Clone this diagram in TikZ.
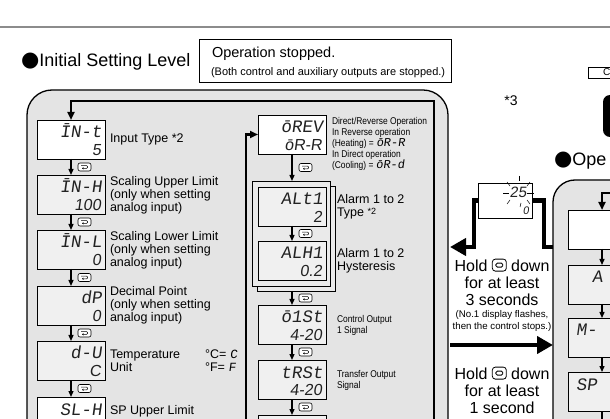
\documentclass[tikz,border=0pt]{standalone}
\usepackage{fontspec}
\setmainfont{Liberation Sans}
\newfontfamily\segfont{Liberation Mono}[FakeSlant=0.14]
\newfontfamily\segnum{Liberation Sans}[FakeSlant=0.14]
\newfontfamily\narrowfont{Liberation Sans}[FakeStretch=0.86]
\newfontfamily\dvfont{DejaVu Sans}
\usetikzlibrary{arrows.meta,calc}
\definecolor{panelgray}{HTML}{E4E4E4}
\definecolor{boxgray}{HTML}{F0F0F0}
\definecolor{framegray}{HTML}{EAEAEA}
\definecolor{rulegray}{HTML}{8C8C8C}
\definecolor{segink}{HTML}{222222}
\tikzset{
  every node/.style={inner sep=0pt, outer sep=0pt},
  panel/.style={draw=black, line width=1.3pt, fill=panelgray},
  disp/.style={draw=black, line width=0.8pt, fill=boxgray, minimum width=68pt, minimum height=39pt, anchor=north west},
  frame/.style={draw=black, line width=0.7pt, fill=framegray, minimum width=78pt, minimum height=105pt, anchor=north west},
  segA/.style={font=\segfont\fontsize{17.5}{18}\selectfont, text=segink, anchor=base east},
  segB/.style={font=\segnum\fontsize{16}{16}\selectfont, text=segink, anchor=base east},
  lbl/.style={font=\fontsize{12.5}{13}\selectfont, align=left, anchor=west},
  small/.style={font=\narrowfont\fontsize{9.8}{11}\selectfont, align=left, anchor=west},
  flow/.style={line width=1.3pt, -{Triangle[length=6pt,width=5pt]}},
  loopline/.style={line width=2.6pt, -{Triangle[length=8pt,width=7pt]}},
  bigline/.style={line width=4.5pt},
  bigarrow/.style={line width=4.5pt, -{Triangle[length=16pt,width=17pt]}},
  keyicon/.style={draw=black, line width=0.6pt, rounded corners=2pt, fill=white, minimum width=13pt, minimum height=8pt, anchor=west,
    path picture={\draw[line width=0.5pt, -{Stealth[length=1.6pt,width=2.2pt]}, rounded corners=0.8pt]
      ([xshift=-3.5pt,yshift=1.3pt]path picture bounding box.center) -- ++(6.5pt,0pt) -- ++(0pt,-2.6pt) -- ++(-5.5pt,0pt);}},
  hold/.style={font=\fontsize{16}{17}\selectfont, align=center},
  ray/.style={line width=0.5pt},
}
\newcommand{\dispbox}[6]{%
  \node[disp, fill=#4] (#1) at (#2,#3) {};
  \node[segA] (#1-t) at ([xshift=-3pt,yshift=-18pt]#1.north east) {#5};
  \node[segB] (#1-b) at ([xshift=-4pt,yshift=-35.5pt]#1.north east) {#6};
}
\newcommand{\stepkey}[3]{%
  \draw[flow] (#2) -- (#3);
  \node[keyicon] (#1) at ($(#2)!0.5!(#3)+(7,0)$) {};
}
\newcommand{\holdicon}{\tikz[baseline=0pt,x=1pt,y=1pt]{\draw[line width=0.8pt, rounded corners=3pt] (0,0) rectangle (14,12); \draw[line width=0.8pt, rounded corners=1.5pt] (3.5,4) rectangle (10.5,8);}}
\begin{document}
\begin{tikzpicture}[x=1pt,y=-1pt]
\useasboundingbox (0,0) rectangle (610,419);
\fill[white] (0,0) rectangle (610,419);
\draw[rulegray, line width=2.5pt] (0,27) -- (610,27);

% titles and top boxes
\node[anchor=base west, font=\fontsize{18}{18}\selectfont] (title) at (21,67) {{\dvfont\fontsize{21}{18}\selectfont ●}Initial Setting Level};
\node[draw, line width=0.8pt, anchor=north west, minimum width=252pt, minimum height=43pt] (stopbox) at (199,39) {};
\node[anchor=base west, font=\fontsize{14.5}{15}\selectfont] (stop1) at (212,58) {Operation stopped.};
\node[anchor=base west, font=\fontsize{11}{11}\selectfont] (stop2) at (211,76) {(Both control and auxiliary outputs are stopped.)};
\node[font=\fontsize{14}{14}\selectfont] (n3) at (511,101) {*3};
\node[draw, line width=0.8pt, anchor=north west, minimum width=40pt, minimum height=11pt] (opbox) at (588,67) {};
\node[anchor=base west, font=\fontsize{10}{10}\selectfont] (optext) at (603,76) {C};
\fill[rounded corners=7pt] (603,95) rectangle (650,137);
\node[anchor=base west, font=\fontsize{18}{18}\selectfont] (optitle) at (554,166) {{\dvfont\fontsize{21}{18}\selectfont ●}Ope};

% panels
\filldraw[panel, rounded corners=25pt] (27,470) -- (27,90) -- (448,90) -- (448,470);
\filldraw[panel, rounded corners=22pt] (553,470) -- (553,180) -- (690,180) -- (690,470);

% left column
\dispbox{b1}{37}{120}{white}{ĪN-t}{5}
\dispbox{b2}{37}{175}{boxgray}{ĪN-H}{100}
\dispbox{b3}{37}{230}{boxgray}{ĪN-L}{0}
\dispbox{b4}{37}{286}{boxgray}{dP}{0}
\dispbox{b5}{37}{341}{boxgray}{d-U}{C}
\node[disp, fill=white] (b6) at (37,397) {};
\node[segA] (b6-t) at ([xshift=-3pt,yshift=-18pt]b6.north east) {SL-H};
\stepkey{k1}{b1.south}{b2.north}
\stepkey{k2}{b2.south}{b3.north}
\stepkey{k3}{b3.south}{b4.north}
\stepkey{k4}{b4.south}{b5.north}
\stepkey{k5}{b5.south}{b6.north}

\node[lbl] (l1) at (110,139) {Input Type *2};
\node[lbl] (l2) at (110,195) {Scaling Upper Limit\\(only when setting\\analog input)};
\node[lbl] (l3) at (110,250) {Scaling Lower Limit\\(only when setting\\analog input)};
\node[lbl] (l4) at (110,305.5) {Decimal Point\\(only when setting\\analog input)};
\node[lbl] (l5) at (110,360.5) {Temperature\\Unit};
\node[lbl] (l5b) at (205,360.5) {°C= {\segfont C}\\°F= {\segfont F}};
\node[lbl] (l6) at (110,411.5) {SP Upper Limit};

% centre column
\dispbox{orev}{258}{115}{white}{ōREV}{ōR-R}
\node[frame] (fback) at (257,186) {};
\node[frame] (ffront) at (252,181) {};
\dispbox{alt}{258}{187}{boxgray}{ALt1}{2}
\dispbox{alh}{258}{241}{boxgray}{ALH1}{0.2}
\dispbox{o1}{258}{305}{boxgray}{ō1St}{4-20}
\dispbox{tr}{258}{360}{boxgray}{tRSt}{4-20}
\node[disp] (nx) at (258,415) {};
\stepkey{k7}{orev.south}{orev.south |- ffront.north}
\stepkey{k8}{alt.south}{alh.north}
\stepkey{k9}{o1.north |- fback.south}{o1.north}
\stepkey{k10}{o1.south}{tr.north}
\stepkey{k11}{tr.south}{nx.north}

\node[small] (dr) at (332,144) {Direct/Reverse Operation\\In Reverse operation\\(Heating) = {\segfont\fontsize{12}{11}\selectfont ōR-R}\\In Direct operation\\(Cooling) = {\segfont\fontsize{12}{11}\selectfont ōR-d}};
\node[lbl] (al1) at (337,206.5) {Alarm 1 to 2\\Type \raisebox{2pt}{\fontsize{9}{9}\selectfont *2}};
\node[lbl] (al2) at (337,260.5) {Alarm 1 to 2\\Hysteresis};
\node[small] (co) at (337,325) {Control Output\\1 Signal};
\node[small] (to) at (337,380) {Transfer Output\\Signal};

% loop lines
\coordinate (cbot) at (246,440);
\draw[loopline] (cbot) |- (orev.west);
\coordinate (rbot) at (434,440);
\coordinate (rtop) at (434,101);
\draw[loopline] (rbot) -- (rtop) -| (b1.north);

% flashing display between levels
\node[draw, line width=0.8pt, fill=white, anchor=north west, minimum width=54pt, minimum height=35pt] (flash) at (478,183) {};
\node[font=\segnum\fontsize{15}{15}\selectfont, text=segink, anchor=base] (f25) at (518,198) {25};
\node[font=\segnum\fontsize{11}{11}\selectfont, text=segink, anchor=base east] (f0) at (529,215) {0};
\draw[ray] (503,193) -- (509,193);
\draw[ray] (527,193) -- (534,193);
\draw[ray] (507,182) -- (510,186);
\draw[ray] (519,176) -- (519,181);
\draw[ray] (530,182) -- (527,186);
\draw[ray] (510,200) -- (507,204);
\draw[ray] (527,200) -- (530,204);
\draw[ray] (521,203) -- (520,207);

% thick connectors
\coordinate (opL1) at (553,247);
\coordinate (isR1) at (450,247);
\draw[bigline] (opL1) -| ([xshift=12pt]flash.east) -- (flash.east);
\draw[bigarrow] (flash.west) -- ++(-4,0) |- (isR1);
\coordinate (isR2) at (450,345);
\coordinate (opL2) at (553,345);
\draw[bigarrow] (isR2) -- (opL2);

\node[hold] (h1) at (502,282) {Hold \holdicon{} down\\for at least\\3 seconds};
\node[font=\fontsize{9.7}{12}\selectfont, align=center] (h1s) at (502,321) {(No.1 display flashes,\\then the control stops.)};
\node[hold] (h2) at (502,390) {Hold \holdicon{} down\\for at least\\1 second};

% operation level column (partly visible)
\node[disp, fill=white] (r1) at (568,210) {};
\node[disp] (r2) at (568,265) {};
\node[disp] (r3) at (568,318) {};
\node[disp] (r4) at (568,372) {};
\node[font=\segfont\fontsize{17.5}{18}\selectfont, text=segink, anchor=base west] (r2t) at (592,283) {A};
\node[font=\segfont\fontsize{17.5}{18}\selectfont, text=segink, anchor=base west] (r3t) at (576,336) {M-};
\node[font=\segfont\fontsize{17.5}{18}\selectfont, text=segink, anchor=base west] (r4t) at (576,390) {SP};
\coordinate (rtopR) at (625,193);
\draw[loopline] (rtopR) -| (r1.north);
\draw[flow] (r1.south) -- (r2.north);
\draw[flow] (r2.south) -- (r3.north);
\draw[flow] (r3.south) -- (r4.north);
\coordinate (r5) at (602,432);
\draw[flow] (r4.south) -- (r5);
\end{tikzpicture}
\end{document}
